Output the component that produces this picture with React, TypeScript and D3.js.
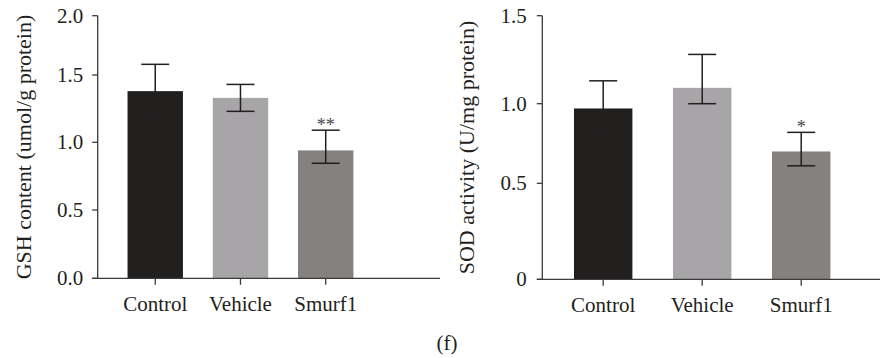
import React from 'react';
import * as d3 from 'd3';

// categories and values
const categories = ['Control', 'Vehicle', 'Smurf1'];
const barColors = ['#221f1f', '#a7a5a7', '#85817f'];

const gshMean = [1.38, 1.33, 0.94];
const gshUpper = [1.59, 1.43, 1.09];
const gshLower = [1.17, 1.23, 0.845];
const gshTicks = [0, 0.5, 1.0, 1.5, 2.0];
const gshTickLabels = ['0.0', '0.5', '1.0', '1.5', '2.0'];
const gshStars = ['', '', '**'];

const sodMean = [0.97, 1.09, 0.7];
const sodUpper = [1.13, 1.28, 0.82];
const sodLower = [0.81, 1.0, 0.61];
const sodTicks = [0, 0.5, 1.0, 1.5];
const sodTickLabels = ['0', '0.5', '1.0', '1.5'];
const sodStars = ['', '', '*'];

const FONT = '"Liberation Serif", "DejaVu Serif", serif';
const INK = '#231f20';
const AXIS = '#3a3a3a';
const FS = 21;

interface PanelProps {
    mean: number[];
    upper: number[];
    lower: number[];
    ticks: number[];
    tickLabels: string[];
    stars: string[];
    label: string;
    axisX: number;
    axisY: number;
    axisEnd: number;
    tickPos: number[]; // pixel row of each tick (figure axis is not evenly spaced)
    bandEnd: number;
    paddingInner: number;
    paddingOuter: number;
    labelX: number;
    tickLabelGap: number;
}

const Panel: React.FC<PanelProps> = (p) => {
    const y = d3.scaleLinear().domain(p.ticks).range(p.tickPos);
    const x = d3
        .scaleBand<string>()
        .domain(categories)
        .range([p.axisX, p.bandEnd])
        .paddingInner(p.paddingInner)
        .paddingOuter(p.paddingOuter);
    const top = y(p.ticks[p.ticks.length - 1]);
    const capHalf = 14;
    const midY = (top + p.axisY) / 2;

    return (
        <g fontFamily={FONT} fill={INK}>
            {categories.map((c, i) => {
                const cx = x(c)! + x.bandwidth() / 2;
                return (
                    <g key={c}>
                        <rect
                            x={x(c)}
                            y={y(p.mean[i])}
                            width={x.bandwidth()}
                            height={p.axisY - y(p.mean[i])}
                            fill={barColors[i]}
                        />
                        <g stroke={INK} strokeWidth={1.5}>
                            <line x1={cx} x2={cx} y1={y(p.upper[i])} y2={y(p.lower[i])} />
                            <line x1={cx - capHalf} x2={cx + capHalf} y1={y(p.upper[i])} y2={y(p.upper[i])} />
                            <line x1={cx - capHalf} x2={cx + capHalf} y1={y(p.lower[i])} y2={y(p.lower[i])} />
                        </g>
                        {p.stars[i] && (
                            <text
                                x={cx}
                                y={y(p.upper[i]) + 1}
                                textAnchor="middle"
                                fontSize={18}
                                fill="#444"
                            >
                                {p.stars[i]}
                            </text>
                        )}
                        <line
                            x1={cx}
                            x2={cx}
                            y1={p.axisY}
                            y2={p.axisY + 6.5}
                            stroke={AXIS}
                            strokeWidth={1.3}
                        />
                        <text x={cx} y={p.axisY + 33} textAnchor="middle" fontSize={FS}>
                            {c}
                        </text>
                    </g>
                );
            })}
            <line x1={p.axisX} x2={p.axisX} y1={top} y2={p.axisY} stroke={AXIS} strokeWidth={1.3} />
            <line x1={p.axisX - 5.5} x2={p.axisEnd} y1={p.axisY} y2={p.axisY} stroke={AXIS} strokeWidth={1.3} />
            {p.ticks.map((t, i) => (
                <g key={t}>
                    <line
                        x1={p.axisX - 5.5}
                        x2={p.axisX}
                        y1={y(t)}
                        y2={y(t)}
                        stroke={AXIS}
                        strokeWidth={1.3}
                    />
                    <text
                        x={p.axisX - p.tickLabelGap}
                        y={y(t)}
                        dy="0.34em"
                        textAnchor="end"
                        fontSize={FS}
                    >
                        {p.tickLabels[i]}
                    </text>
                </g>
            ))}
            <text
                transform={`translate(${p.labelX},${midY}) rotate(-90)`}
                dy="0.35em"
                textAnchor="middle"
                fontSize={22}
            >
                {p.label}
            </text>
        </g>
    );
};

const App: React.FC = () => (
    <svg
        width={880}
        height={358}
        viewBox="0 0 880 358"
        style={{ position: 'absolute', left: 0, top: 0, background: '#fff' }}
    >
        <Panel
            mean={gshMean}
            upper={gshUpper}
            lower={gshLower}
            ticks={gshTicks}
            tickLabels={gshTickLabels}
            stars={gshStars}
            label="GSH content (umol/g protein)"
            axisX={97.7}
            axisY={278.3}
            axisEnd={440}
            tickPos={[278.3, 210, 142.3, 75, 15.7]}
            bandEnd={383.25}
            paddingInner={0.35}
            paddingOuter={0.35}
            labelX={23.3}
            tickLabelGap={14.4}
        />
        <Panel
            mean={sodMean}
            upper={sodUpper}
            lower={sodLower}
            ticks={sodTicks}
            tickLabels={sodTickLabels}
            stars={sodStars}
            label="SOD activity (U/mg protein)"
            axisX={542.3}
            axisY={279.3}
            axisEnd={880}
            tickPos={[279.3, 183.3, 103.7, 15.7]}
            bandEnd={862.1}
            paddingInner={0.41}
            paddingOuter={0.32}
            labelX={466.7}
            tickLabelGap={15.6}
        />
        <text x={447} y={350} textAnchor="middle" fontFamily={FONT} fontSize={FS} fill={INK}>
            (f)
        </text>
    </svg>
);

export default App;
